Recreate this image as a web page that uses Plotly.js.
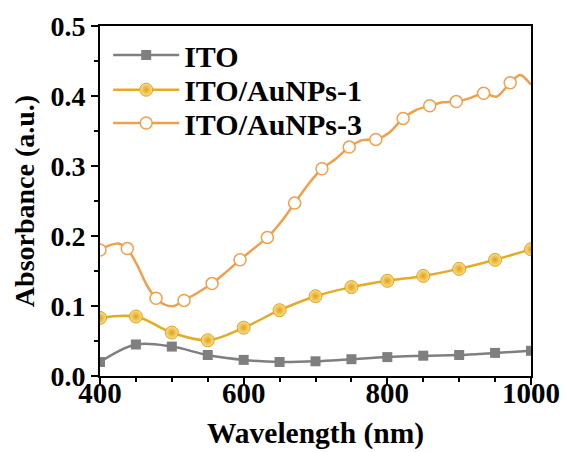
<!DOCTYPE html>
<html>
<head>
<meta charset="utf-8">
<script src="https://cdn.plot.ly/plotly-3.0.1.min.js"></script>
<style>
  html, body { margin: 0; padding: 0; background: #ffffff; }
  #chart { width: 564px; height: 452px; }
</style>
</head>
<body>
<div id="chart"></div>
<script>
// ---- data ----
var seriesNames = ["ITO", "ITO/AuNPs-1", "ITO/AuNPs-3"];

var wavelengthStep50 = [400, 450, 500, 550, 600, 650, 700, 750, 800, 850, 900, 950, 1000];
var absITO = [0.020, 0.045, 0.042, 0.030, 0.023, 0.020, 0.021, 0.024, 0.027, 0.029, 0.030, 0.033, 0.036];
var absAu1 = [0.083, 0.085, 0.062, 0.051, 0.069, 0.094, 0.114, 0.127, 0.136, 0.143, 0.153, 0.166, 0.181];

// ITO/AuNPs-3: measured curve
var wlAu3Curve = [400, 414, 427, 438, 452, 465, 478, 490, 503, 517, 536, 556, 575, 595, 614, 633, 652, 671, 690, 709, 728, 747, 765, 784, 803, 822, 840, 859, 877, 896, 915, 934, 952, 971, 985, 1000];
var absAu3Curve = [0.180, 0.187, 0.189, 0.182, 0.158, 0.130, 0.111, 0.102, 0.100, 0.108, 0.119, 0.132, 0.148, 0.166, 0.182, 0.198, 0.220, 0.247, 0.274, 0.296, 0.310, 0.327, 0.337, 0.338, 0.348, 0.368, 0.380, 0.386, 0.391, 0.392, 0.397, 0.404, 0.399, 0.419, 0.430, 0.416];
// ITO/AuNPs-3: marker points
var wlAu3Marks = [400, 438, 478, 517, 556, 595, 633, 671, 709, 747, 784, 822, 859, 896, 934, 971];
var absAu3Marks = [0.180, 0.182, 0.111, 0.108, 0.132, 0.166, 0.198, 0.247, 0.296, 0.327, 0.338, 0.368, 0.386, 0.392, 0.404, 0.419];

var xTickVals = [400, 600, 800, 1000];
var yTickVals = [0.0, 0.1, 0.2, 0.3, 0.4, 0.5];

// ---- styles ----
var cGray = "#7f7f7f";
var cGold = "#e6aa24";
var cOrange = "#f0a04b";

var traces = [
  {
    x: wavelengthStep50, y: absITO, name: seriesNames[0], legend: "legend",
    mode: "lines+markers", type: "scatter",
    line: { color: cGray, width: 2.5, shape: "spline", smoothing: 1 },
    marker: { symbol: "square", size: 10, color: cGray }
  },
  {
    x: wavelengthStep50, y: absAu1, name: seriesNames[1], legend: "legend2",
    mode: "lines+markers", type: "scatter",
    line: { color: cGold, width: 2.5, shape: "spline", smoothing: 1 },
    marker: { symbol: "circle", size: 13, color: "#fbe08a",
      gradient: { type: "radial", color: "#e0a216" },
      line: { color: "#dca22a", width: 1 } }
  },
  {
    x: wlAu3Curve, y: absAu3Curve, name: seriesNames[2],
    mode: "lines", type: "scatter", showlegend: false,
    line: { color: cOrange, width: 2.5, shape: "spline", smoothing: 0.8 },
    hoverinfo: "skip"
  },
  {
    x: wlAu3Marks, y: absAu3Marks, name: seriesNames[2],
    mode: "markers", type: "scatter", showlegend: false,
    marker: { symbol: "circle", size: 12, color: "#ffffff",
      line: { color: cOrange, width: 1.5 } }
  },
  {
    x: [null], y: [null], name: seriesNames[2], legend: "legend3",
    mode: "lines+markers", type: "scatter",
    line: { color: cOrange, width: 2.5 },
    marker: { symbol: "circle", size: 12, color: "#ffffff",
      line: { color: cOrange, width: 1.5 } }
  }
];

var fontBase = { family: "'Liberation Serif', 'Times New Roman', serif", weight: "bold", color: "#000000" };

function legendAt(yPos) {
  return {
    x: 0.019, y: yPos, xanchor: "left", yanchor: "middle",
    bgcolor: "rgba(0,0,0,0)", borderwidth: 0,
    itemwidth: 66,
    font: Object.assign({}, fontBase, { size: 30 })
  };
}

var layout = {
  width: 564, height: 452,
  margin: { l: 100, r: 33, t: 26, b: 76 },
  paper_bgcolor: "#ffffff", plot_bgcolor: "#ffffff",
  font: Object.assign({}, fontBase, { size: 28 }),
  showlegend: true,
  legend: legendAt(0.917),
  legend2: legendAt(0.818),
  legend3: legendAt(0.7229),
  xaxis: {
    range: [400, 1000], tickvals: xTickVals,
    showgrid: false, zeroline: false,
    showline: true, linecolor: "#000000", linewidth: 2, mirror: true,
    ticks: "outside", ticklen: 7, tickwidth: 2, tickcolor: "#000000",
    ticklabelstandoff: -17,
    minor: { dtick: 50, tick0: 400, ticks: "outside", ticklen: 4, tickwidth: 2, tickcolor: "#000000" },
    tickfont: Object.assign({}, fontBase, { size: 29 }),
    title: { text: "Wavelength (nm)", font: Object.assign({}, fontBase, { size: 29.5 }), standoff: 15 }
  },
  yaxis: {
    range: [0, 0.5], tickvals: yTickVals, tickformat: ".1f",
    showgrid: false, zeroline: false,
    showline: true, linecolor: "#000000", linewidth: 2, mirror: true,
    ticks: "outside", ticklen: 7, tickwidth: 2, tickcolor: "#000000",
    minor: { dtick: 0.05, tick0: 0, ticks: "outside", ticklen: 4, tickwidth: 2, tickcolor: "#000000" },
    tickfont: Object.assign({}, fontBase, { size: 28 }),
    title: { text: "Absorbance (a.u.)", font: Object.assign({}, fontBase, { size: 28 }), standoff: 8 }
  }
};

Plotly.newPlot("chart", traces, layout, { displayModeBar: false, staticPlot: true });
</script>
</body>
</html>
